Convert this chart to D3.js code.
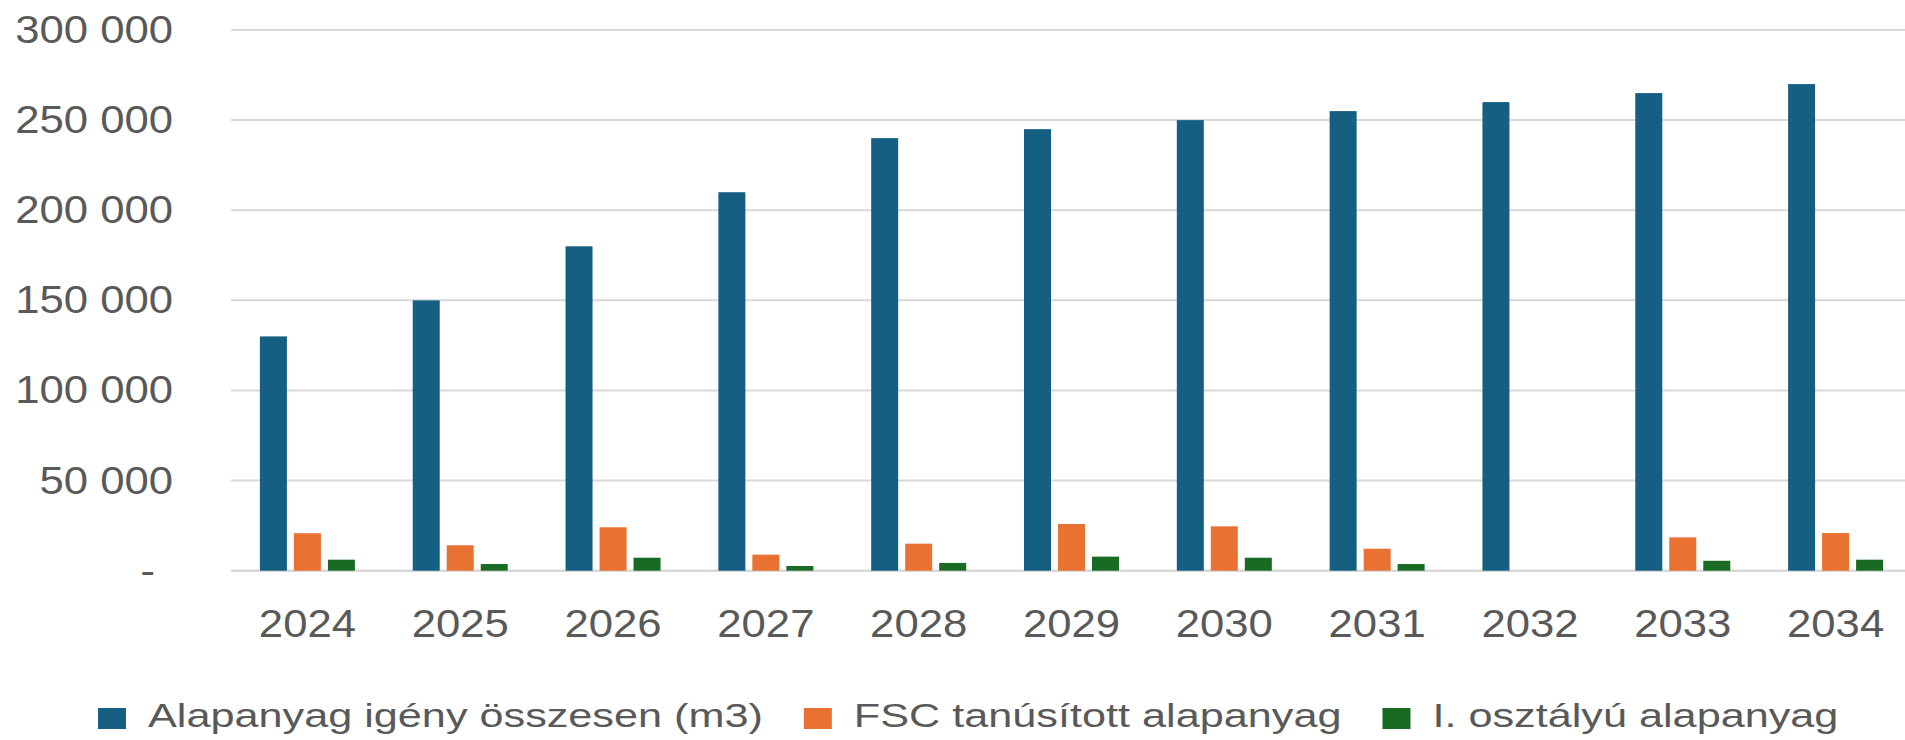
<!DOCTYPE html>
<html>
<head>
<meta charset="utf-8">
<script src="https://cdn.jsdelivr.net/npm/d3@7"></script>
<style>
  body { margin: 0; background: #fff; }
  svg { display: block; }
</style>
</head>
<body>
<div id="d3-container"></div>
<script>
// data
const years = ["2024", "2025", "2026", "2027", "2028", "2029", "2030", "2031", "2032", "2033", "2034"];
const totalDemand = [130000, 150000, 180000, 210000, 240000, 245000, 250000, 255000, 260000, 265000, 270000];
const fscMaterial = [20800, 14100, 24100, 8900, 15000, 25900, 24600, 12200, 0, 18500, 20900];
const firstClass = [6100, 3700, 7200, 2600, 4300, 7800, 7200, 3700, 0, 5500, 6100];
const seriesNames = ["Alapanyag igény összesen (m3)", "FSC tanúsított alapanyag", "I. osztályú alapanyag"];
const yTicks = [0, 50000, 100000, 150000, 200000, 250000, 300000];

// set up
const width = 1905;
const height = 740;
const plot = { left: 231, right: 1912, top: 30, bottom: 570.7 };
const axisStretch = 1.12;   // reference text is drawn a bit wide
const legendStretch = 1.31;

const svg = d3.select('#d3-container')
  .append('svg')
  .attr('width', width)
  .attr('height', height)
  .attr('font-family', '"Liberation Sans", Arial, sans-serif');

const series = [totalDemand, fscMaterial, firstClass];
const rows = years.map((year, i) => ({
  year: year,
  values: seriesNames.map((name, k) => ({ key: name, value: series[k][i] }))
}));

// scales
const x = d3.scaleBand()
  .domain(years)
  .range([plot.left, plot.right]);

const xSub = d3.scaleBand()
  .domain(seriesNames)
  .range([-47.5, 47.5])
  .paddingInner(0.206);

const y = d3.scaleLinear()
  .domain([0, 300000])
  .range([plot.bottom, plot.top]);

const color = d3.scaleOrdinal()
  .domain(seriesNames)
  .range(["#156082", "#E97132", "#196B24"]);

// gridlines
svg.append('g')
  .selectAll('line')
  .data(yTicks)
  .join('line')
    .attr('x1', plot.left)
    .attr('x2', width)
    .attr('y1', d => y(d))
    .attr('y2', d => y(d))
    .attr('stroke', '#d9d9d9')
    .attr('stroke-width', d => d === 0 ? 2.5 : 2);

// y axis
const yAxis = d3.axisLeft(y)
  .tickValues(yTicks)
  .tickSize(0)
  .tickPadding(58)
  .tickFormat(d => d === 0 ? '-' : d3.format(',')(d).replace(/,/g, ' '));

svg.append('g')
  .attr('transform', `translate(${plot.left},0)`)
  .call(yAxis)
  .call(g => g.select('.domain').remove())
  .call(g => g.selectAll('text')
    .attr('fill', '#595959')
    .attr('font-size', '39px')
    .attr('x', d => (d === 0 ? -76 : -58) / axisStretch)
    .attr('transform', `scale(${axisStretch},1)`));

// x axis
const xAxis = d3.axisBottom(x)
  .tickSize(0)
  .tickPadding(39);

svg.append('g')
  .attr('transform', `translate(0,${plot.bottom})`)
  .call(xAxis)
  .call(g => g.select('.domain').remove())
  .call(g => g.selectAll('text')
    .attr('fill', '#595959')
    .attr('font-size', '39px')
    .attr('transform', `scale(${axisStretch},1)`));

// draw bars
const groups = svg.append('g')
  .selectAll('g')
  .data(rows)
  .join('g')
    .attr('transform', d => `translate(${x(d.year) + x.bandwidth() / 2},0)`);

groups.selectAll('rect')
  .data(d => d.values.filter(v => v.value > 0))
  .join('rect')
    .attr('x', d => xSub(d.key))
    .attr('y', d => y(d.value))
    .attr('width', xSub.bandwidth())
    .attr('height', d => y(0) - y(d.value))
    .attr('fill', d => color(d.key));

// legend
const legend = svg.append('g')
  .attr('transform', 'translate(98,708)');

let cursor = 0;
seriesNames.forEach(name => {
  const item = legend.append('g')
    .attr('transform', `translate(${cursor},0)`);
  item.append('rect')
    .attr('width', 28)
    .attr('height', 21)
    .attr('fill', color(name));
  const label = item.append('text')
    .attr('x', 50 / legendStretch)
    .attr('y', 19)
    .attr('transform', `scale(${legendStretch},1)`)
    .attr('fill', '#595959')
    .attr('font-size', '33px')
    .text(name);
  const w = label.node().getComputedTextLength() * legendStretch;
  cursor += 50 + w + 41;
});
</script>
</body>
</html>
